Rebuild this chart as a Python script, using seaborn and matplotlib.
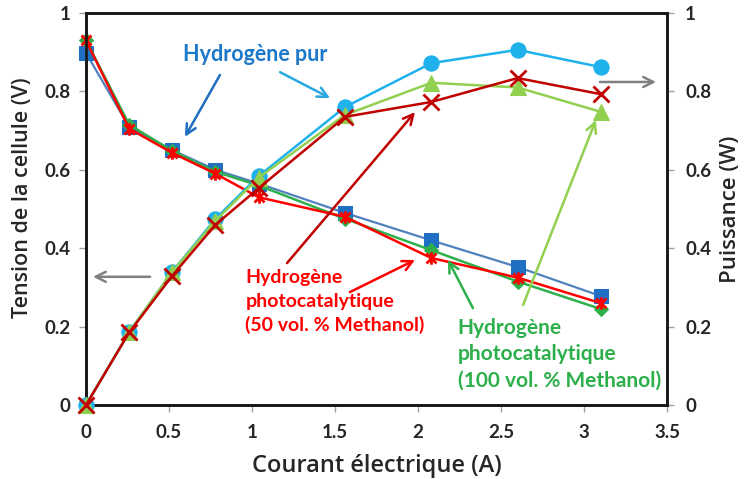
import matplotlib
matplotlib.use("Agg")
import matplotlib.pyplot as plt
from matplotlib.path import Path
import seaborn as sns
import pandas as pd

sns.set_theme(style="white")
plt.rcParams["font.family"] = ["Lato", "DejaVu Sans"]

# Fuel cell polarisation and power curves
courant = [0, 0.26, 0.52, 0.78, 1.04, 1.56, 2.08, 2.6, 3.1]

tension_pur = [0.898, 0.709, 0.650, 0.600, 0.565, 0.490, 0.420, 0.352, 0.278]
tension_50 = [0.930, 0.705, 0.643, 0.590, 0.530, 0.480, 0.375, 0.325, 0.260]
tension_100 = [0.930, 0.715, 0.648, 0.595, 0.560, 0.475, 0.395, 0.315, 0.245]

puissance_pur = [0, 0.186, 0.340, 0.475, 0.584, 0.760, 0.872, 0.906, 0.862]
puissance_50 = [0, 0.185, 0.330, 0.460, 0.553, 0.735, 0.773, 0.834, 0.793]
puissance_100 = [0, 0.186, 0.340, 0.470, 0.580, 0.740, 0.822, 0.810, 0.748]

x_ticks = [0, 0.5, 1, 1.5, 2, 2.5, 3, 3.5]
y_ticks = [0, 0.2, 0.4, 0.6, 0.8, 1]

df = pd.DataFrame({
    "I": courant,
    "V_pur": tension_pur, "V_50": tension_50, "V_100": tension_100,
    "P_pur": puissance_pur, "P_50": puissance_50, "P_100": puissance_100,
})

# asterisk marker: an x crossed by a vertical bar
star = Path(
    [(-1, -1), (1, 1), (-1, 1), (1, -1), (0, -1.25), (0, 1.25)],
    [Path.MOVETO, Path.LINETO, Path.MOVETO, Path.LINETO, Path.MOVETO, Path.LINETO],
)

fig = plt.figure(figsize=(7.46, 4.79), dpi=100)
ax = fig.add_axes([0.1153, 0.1545, 0.7788, 0.8184])
ax2 = ax.twinx()

# voltage (left axis)
sns.lineplot(data=df, x="I", y="V_pur", ax=ax, color="#4F81BD", lw=1.6,
             marker="s", markersize=10, markerfacecolor="#1F6FC5",
             markeredgecolor="#1F6FC5", zorder=3, clip_on=False)
sns.lineplot(data=df, x="I", y="V_100", ax=ax, color="#2DB04B", lw=1.8,
             marker="D", markersize=7, markerfacecolor="#2DB04B",
             markeredgecolor="#2DB04B", zorder=4, clip_on=False)
sns.lineplot(data=df, x="I", y="V_50", ax=ax, color="#FF0000", lw=1.8,
             marker=star, markersize=9, markeredgewidth=2,
             markeredgecolor="#FF0000", markerfacecolor="none", zorder=5,
             clip_on=False)

# power (right axis)
sns.lineplot(data=df, x="I", y="P_pur", ax=ax2, color="#1EB1EC", lw=1.8,
             marker="o", markersize=11, markerfacecolor="#1EB1EC",
             markeredgecolor="#1EB1EC", zorder=3, clip_on=False)
sns.lineplot(data=df, x="I", y="P_100", ax=ax2, color="#92D050", lw=1.8,
             marker="^", markersize=11, markerfacecolor="#92D050",
             markeredgecolor="#92D050", zorder=4, clip_on=False)
sns.lineplot(data=df, x="I", y="P_50", ax=ax2, color="#C00000", lw=1.8,
             marker="x", markersize=12, markeredgewidth=2,
             markeredgecolor="#C00000", zorder=5, clip_on=False)

for a in (ax, ax2):
    a.set_xlim(0, 3.5)
    a.set_ylim(0, 1)
    a.set_yticks(y_ticks)
    a.set_yticklabels([f"{t:g}" for t in y_ticks], fontsize=13.5, fontweight="bold")
    for s in a.spines.values():
        s.set_visible(True)
        s.set_color("#1a1a1a")
        s.set_linewidth(2)
    a.tick_params(axis="both", which="major", length=5, width=1, color="#a0a0a0",
                  direction="out", pad=6)
ax.spines["right"].set_color("#404040")

ax.set_xticks(x_ticks)
ax.set_xticklabels([f"{t:g}" for t in x_ticks], fontsize=13.5, fontweight="bold")
ax.tick_params(axis="x", bottom=True, pad=9)
ax.tick_params(axis="y", left=True)
ax2.tick_params(axis="y", right=True, pad=8)

ax.set_xlabel("Courant électrique (A)", fontsize=17, family="Open Sans",
              fontweight="semibold", labelpad=9)
ax.set_ylabel("Tension de la cellule (V)", fontsize=15.5, family="Open Sans",
              fontweight="semibold")
ax.yaxis.set_label_coords(-0.092, 0.53)
ax2.set_ylabel("Puissance (W)", fontsize=16, family="Open Sans",
               fontweight="semibold", labelpad=6)

ax.grid(False)
ax2.grid(False)


def arrow(x0, y0, x1, y1, color):
    ax2.annotate("", xy=(x1, y1), xytext=(x0, y0),
                 arrowprops=dict(arrowstyle="->,head_length=0.6,head_width=0.3",
                                 color=color, lw=1.8, shrinkA=0, shrinkB=0),
                 zorder=6)


# series annotations
ax2.text(1.02, 0.893, "Hydrogène pur", color="#1C78C8", fontsize=15.5,
         fontweight="bold", ha="center", va="center")
arrow(0.807, 0.842, 0.596, 0.684, "#1F6FC0")
arrow(1.169, 0.849, 1.470, 0.783, "#29A8E0")

ax2.text(0.96, 0.263, "Hydrogène\nphotocatalytique\n(50 vol. % Methanol)",
         color="#FF0000", fontsize=14, fontweight="bold", ha="left",
         va="center", linespacing=1.45)
arrow(1.211, 0.362, 1.982, 0.747, "#C00000")
arrow(1.590, 0.288, 1.982, 0.370, "#FF0000")

ax2.text(2.24, 0.130, "Hydrogène\nphotocatalytique\n(100 vol. % Methanol)",
         color="#2DB04B", fontsize=15, fontweight="bold", ha="left",
         va="center", linespacing=1.4)
arrow(2.331, 0.247, 2.181, 0.370, "#2DB04B")
arrow(2.633, 0.255, 3.072, 0.727, "#92D050")

# axis pointers
arrow(0.386, 0.327, 0.042, 0.327, "#808080")
arrow(3.096, 0.824, 3.434, 0.824, "#808080")

fig.savefig("out.png", dpi=100)
